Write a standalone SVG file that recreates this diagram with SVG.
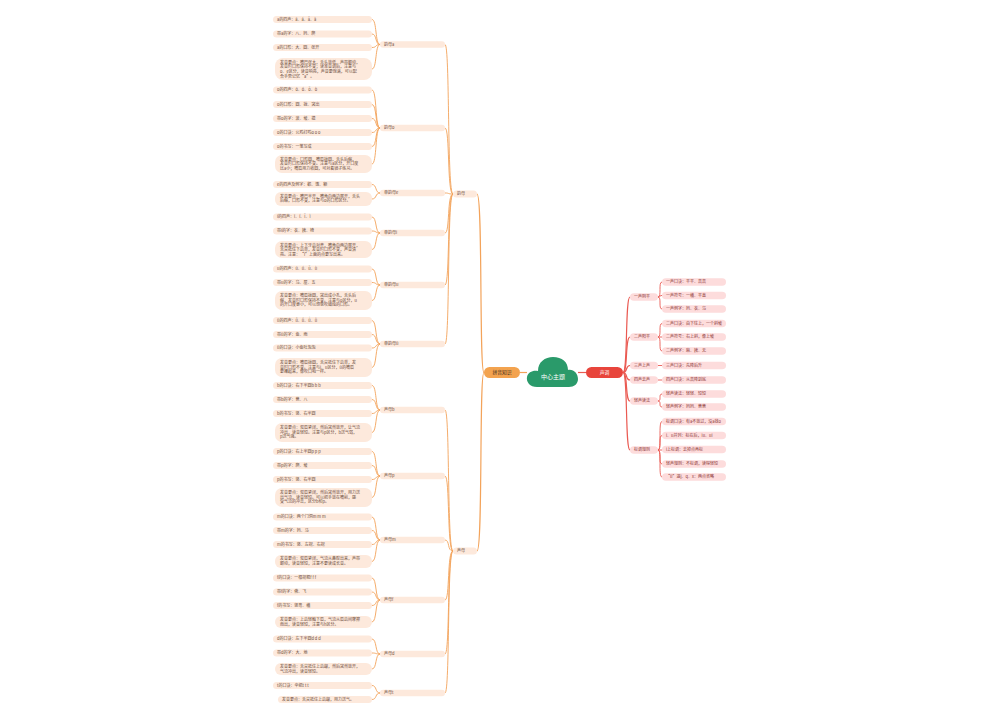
<svg xmlns="http://www.w3.org/2000/svg" width="1000" height="720" viewBox="0 0 1000 720">
<style>
.lf{fill:#fde9dc}
.rf{fill:#fddcdc}
.t{font-family:"Noto Sans CJK SC","Noto Sans",sans-serif;font-size:4px;fill:#6b4b3a}
.rt{font-family:"Noto Sans CJK SC","Noto Sans",sans-serif;font-size:4px;fill:#8a3636}
.c1{fill:none;stroke:#f3a35a;stroke-width:0.9}
.c2{fill:none;stroke:#ea5a52;stroke-width:0.9}
.m1{fill:none;stroke:#f3a35a;stroke-width:1.2}
.m2{fill:none;stroke:#ea5a52;stroke-width:1.2}
</style>
<rect width="1000" height="720" fill="#ffffff"/>
<g id="connectors">
<path class="m1" d="M520,372.5 L527,372.5"/>
<path class="m2" d="M578,372.5 L586,372.5"/>
<path class="m1" d="M484,372.5 C479,372.5 483,194 477,194"/>
<path class="m1" d="M484,372.5 C479,372.5 483,551 477,551"/>
<path class="c1" d="M453,194 C447,194 450,44.5 445,44.5"/>
<path class="c1" d="M453,194 C447,194 450,128 445,128"/>
<path class="c1" d="M453,194 C447,194 450,193 445,193"/>
<path class="c1" d="M453,194 C447,194 450,233 445,233"/>
<path class="c1" d="M453,194 C447,194 450,285 445,285"/>
<path class="c1" d="M453,194 C447,194 450,344 445,344"/>
<path class="c1" d="M453,551 C447,551 450,410 445,410"/>
<path class="c1" d="M453,551 C447,551 450,476 445,476"/>
<path class="c1" d="M453,551 C447,551 450,540 445,540"/>
<path class="c1" d="M453,551 C447,551 450,600 445,600"/>
<path class="c1" d="M453,551 C447,551 450,654 445,654"/>
<path class="c1" d="M453,551 C447,551 450,693 445,693"/>
<path class="c1" d="M380,44.5 C375,44.5 377,19.5 372,19.5"/>
<path class="c1" d="M380,44.5 C375,44.5 377,34 372,34"/>
<path class="c1" d="M380,44.5 C375,44.5 377,47.5 372,47.5"/>
<path class="c1" d="M380,44.5 C375,44.5 377,69 372,69"/>
<path class="c1" d="M380,128 C375,128 377,90 372,90"/>
<path class="c1" d="M380,128 C375,128 377,104.5 372,104.5"/>
<path class="c1" d="M380,128 C375,128 377,118.5 372,118.5"/>
<path class="c1" d="M380,128 C375,128 377,132.5 372,132.5"/>
<path class="c1" d="M380,128 C375,128 377,146.5 372,146.5"/>
<path class="c1" d="M380,128 C375,128 377,164 372,164"/>
<path class="c1" d="M380,193 C375,193 377,184.5 372,184.5"/>
<path class="c1" d="M380,193 C375,193 377,199 372,199"/>
<path class="c1" d="M380,233 C375,233 377,217 372,217"/>
<path class="c1" d="M380,233 C375,233 377,231 372,231"/>
<path class="c1" d="M380,233 C375,233 377,249.5 372,249.5"/>
<path class="c1" d="M380,285 C375,285 377,269 372,269"/>
<path class="c1" d="M380,285 C375,285 377,282.5 372,282.5"/>
<path class="c1" d="M380,285 C375,285 377,300.5 372,300.5"/>
<path class="c1" d="M380,344 C375,344 377,320.5 372,320.5"/>
<path class="c1" d="M380,344 C375,344 377,334.5 372,334.5"/>
<path class="c1" d="M380,344 C375,344 377,348 372,348"/>
<path class="c1" d="M380,344 C375,344 377,367.5 372,367.5"/>
<path class="c1" d="M380,410 C375,410 377,385.5 372,385.5"/>
<path class="c1" d="M380,410 C375,410 377,399.5 372,399.5"/>
<path class="c1" d="M380,410 C375,410 377,413.5 372,413.5"/>
<path class="c1" d="M380,410 C375,410 377,432.5 372,432.5"/>
<path class="c1" d="M380,476 C375,476 377,451.5 372,451.5"/>
<path class="c1" d="M380,476 C375,476 377,465.5 372,465.5"/>
<path class="c1" d="M380,476 C375,476 377,479.5 372,479.5"/>
<path class="c1" d="M380,476 C375,476 377,497.5 372,497.5"/>
<path class="c1" d="M380,540 C375,540 377,517 372,517"/>
<path class="c1" d="M380,540 C375,540 377,530.5 372,530.5"/>
<path class="c1" d="M380,540 C375,540 377,544.5 372,544.5"/>
<path class="c1" d="M380,540 C375,540 377,561.5 372,561.5"/>
<path class="c1" d="M380,600 C375,600 377,578 372,578"/>
<path class="c1" d="M380,600 C375,600 377,592 372,592"/>
<path class="c1" d="M380,600 C375,600 377,605.5 372,605.5"/>
<path class="c1" d="M380,600 C375,600 377,622 372,622"/>
<path class="c1" d="M380,654 C375,654 377,639 372,639"/>
<path class="c1" d="M380,654 C375,654 377,653 372,653"/>
<path class="c1" d="M380,654 C375,654 377,669 372,669"/>
<path class="c1" d="M380,693 C375,693 377,685.5 372,685.5"/>
<path class="c1" d="M380,693 C375,693 377,699.5 372,699.5"/>
<path class="m2" d="M623,372.5 C628,372.5 625,297 630,297"/>
<path class="m2" d="M623,372.5 C628,372.5 625,337 630,337"/>
<path class="m2" d="M623,372.5 C628,372.5 625,365.5 630,365.5"/>
<path class="m2" d="M623,372.5 C628,372.5 625,380 630,380"/>
<path class="m2" d="M623,372.5 C628,372.5 625,401 630,401"/>
<path class="m2" d="M623,372.5 C628,372.5 625,450 630,450"/>
<path class="c2" d="M658,297 C662,297 658,282 662,282"/>
<path class="c2" d="M658,297 C662,297 658,295.5 662,295.5"/>
<path class="c2" d="M658,297 C662,297 658,309 662,309"/>
<path class="c2" d="M658,337 C662,337 658,323.5 662,323.5"/>
<path class="c2" d="M658,337 L662,337"/>
<path class="c2" d="M658,337 C662,337 658,351 662,351"/>
<path class="c2" d="M658,365.5 L662,365.5"/>
<path class="c2" d="M658,380 L662,380"/>
<path class="c2" d="M658,401 C662,401 658,394 662,394"/>
<path class="c2" d="M658,401 C662,401 658,407 662,407"/>
<path class="c2" d="M658,450 C662,450 658,421.5 662,421.5"/>
<path class="c2" d="M658,450 C662,450 658,435.5 662,435.5"/>
<path class="c2" d="M658,450 L662,450"/>
<path class="c2" d="M658,450 C662,450 658,464 662,464"/>
<path class="c2" d="M658,450 C662,450 658,477 662,477"/>
</g>
<g id="center">
<path d="M537,387 C530,387 526,382 527,377 C528,372 533,370 538,371 C538,362 545,357 553,357 C562,357 568,362 568,370 C574,369 578,374 578,379 C578,384 574,387 569,387 Z" fill="#2a9a6a"/>
<text x="553" y="378.5" text-anchor="middle" font-family="Noto Sans CJK SC, Noto Sans, sans-serif" font-size="6" fill="#ffffff">中心主题</text>
</g>
<g id="n-left">
<rect x="484" y="367" width="36" height="11" rx="5.5" fill="#f3a34f"/>
<text x="502" y="374.3" text-anchor="middle" font-family="Noto Sans CJK SC, Noto Sans, sans-serif" font-size="4.8" fill="#3a2a1a">拼音知识</text>
</g>
<g id="n-right">
<rect x="586" y="367" width="37" height="11" rx="5.5" fill="#e8453c"/>
<text x="604.5" y="374.3" text-anchor="middle" font-family="Noto Sans CJK SC, Noto Sans, sans-serif" font-size="4.8" fill="#ffffff">声调</text>
</g>
<g id="n-yunmu"><rect class="lf" x="453" y="190.5" width="24" height="7" rx="3.5"/><text class="t" x="457" y="195.4">韵母</text></g>
<g id="n-shengmu"><rect class="lf" x="453" y="547.5" width="24" height="7" rx="3.5"/><text class="t" x="457" y="552.4">声母</text></g>

<g id="g1">
<rect class="lf" x="380" y="41.2" width="65" height="6.5" rx="3.25"/><text class="t" x="384" y="45.9">韵母a</text>
<rect class="lf" x="273" y="16" width="99" height="7" rx="3.5"/><text class="t" x="277" y="20.9">a的四声：ā、á、ǎ、à</text>
<rect class="lf" x="273" y="30.5" width="99" height="7" rx="3.5"/><text class="t" x="277" y="35.4">带a的字：八、妈、爬</text>
<rect class="lf" x="273" y="44" width="99" height="7" rx="3.5"/><text class="t" x="277" y="48.9">a的口形：大、圆、张开</text>
<rect class="lf" x="275" y="58" width="97" height="22" rx="8"/>
<text class="t" x="280" y="63.8">发音要点：嘴巴张大，舌头放低，声带颤动，</text>
<text class="t" x="280" y="68.4">发音时口形保持不变；读准音调后，注意与</text>
<text class="t" x="280" y="73">o、e区分，读音响亮，声音要饱满，可以配</text>
<text class="t" x="280" y="77.6">合手势记忆“a”。</text>
</g>
<g id="g2">
<rect class="lf" x="380" y="124.8" width="65" height="6.5" rx="3.25"/><text class="t" x="384" y="129.4">韵母o</text>
<rect class="lf" x="273" y="86.5" width="99" height="7" rx="3.5"/><text class="t" x="277" y="91.4">o的四声：ō、ó、ǒ、ò</text>
<rect class="lf" x="273" y="101" width="99" height="7" rx="3.5"/><text class="t" x="277" y="105.9">o的口形：圆、拢、突出</text>
<rect class="lf" x="273" y="115" width="99" height="7" rx="3.5"/><text class="t" x="277" y="119.9">带o的字：波、坡、摸</text>
<rect class="lf" x="273" y="129" width="99" height="7" rx="3.5"/><text class="t" x="277" y="133.9">o的口诀：公鸡打鸣o o o</text>
<rect class="lf" x="273" y="143" width="99" height="7" rx="3.5"/><text class="t" x="277" y="147.9">o的书写：一笔写成</text>
<rect class="lf" x="275" y="155" width="97" height="18" rx="7"/>
<text class="t" x="280" y="160.8">发音要点：口形圆，嘴唇拢圆，舌头后缩，</text>
<text class="t" x="280" y="165.4">发音时口形保持不变。注意与a区分，开口度</text>
<text class="t" x="280" y="170">比a小；嘴唇用力收圆，可对着镜子练习。</text>
</g>
<g id="g3">
<rect class="lf" x="380" y="189.8" width="65" height="6.5" rx="3.25"/><text class="t" x="384" y="194.4">单韵母e</text>
<rect class="lf" x="273" y="181" width="99" height="7" rx="3.5"/><text class="t" x="277" y="185.9">e的四声及例字：鹅、饿、额</text>
<rect class="lf" x="275" y="192" width="97" height="14" rx="6"/>
<text class="t" x="280" y="197.6">发音要点：嘴巴半开，嘴角向两边展开，舌头</text>
<text class="t" x="280" y="202.2">后缩，口形不变，注意与o的口形区分。</text>
</g>
<g id="g4">
<rect class="lf" x="380" y="229.8" width="65" height="6.5" rx="3.25"/><text class="t" x="384" y="234.4">单韵母i</text>
<rect class="lf" x="273" y="213.5" width="99" height="7" rx="3.5"/><text class="t" x="277" y="218.4">i的四声：ī、í、ǐ、ì</text>
<rect class="lf" x="273" y="227.5" width="99" height="7" rx="3.5"/><text class="t" x="277" y="232.4">带i的字：衣、姨、椅</text>
<rect class="lf" x="275" y="241" width="97" height="17" rx="7"/>
<text class="t" x="280" y="246.6">发音要点：上下牙齿对齐，嘴角向两边展开，</text>
<text class="t" x="280" y="251.2">舌尖抵住下齿背，发音时口形不变，声音清</text>
<text class="t" x="280" y="255.8">亮。注意：“i”上面的点要写出来。</text>
</g>
<g id="g5">
<rect class="lf" x="380" y="281.8" width="65" height="6.5" rx="3.25"/><text class="t" x="384" y="286.4">单韵母u</text>
<rect class="lf" x="273" y="265.5" width="99" height="7" rx="3.5"/><text class="t" x="277" y="270.4">u的四声：ū、ú、ǔ、ù</text>
<rect class="lf" x="273" y="279" width="99" height="7" rx="3.5"/><text class="t" x="277" y="283.9">带u的字：乌、屋、五</text>
<rect class="lf" x="275" y="291" width="97" height="19" rx="7"/>
<text class="t" x="280" y="297.2">发音要点：嘴唇拢圆，突出成小孔，舌头后</text>
<text class="t" x="280" y="301.8">缩，发音时口形保持不变。注意与o区分，u</text>
<text class="t" x="280" y="306.4">的开口度更小，可以想象吹蜡烛的口形。</text>
</g>
<g id="g6">
<rect class="lf" x="380" y="340.8" width="65" height="6.5" rx="3.25"/><text class="t" x="384" y="345.4">单韵母ü</text>
<rect class="lf" x="273" y="317" width="99" height="7" rx="3.5"/><text class="t" x="277" y="321.9">ü的四声：ǖ、ǘ、ǚ、ǜ</text>
<rect class="lf" x="273" y="331" width="99" height="7" rx="3.5"/><text class="t" x="277" y="335.9">带ü的字：鱼、雨</text>
<rect class="lf" x="273" y="344.5" width="99" height="7" rx="3.5"/><text class="t" x="277" y="349.4">ü的口诀：小鱼吐泡泡</text>
<rect class="lf" x="275" y="358" width="97" height="19" rx="7"/>
<text class="t" x="280" y="364.2">发音要点：嘴唇拢圆，舌尖抵住下齿背，发</text>
<text class="t" x="280" y="368.8">音时口形不变。注意与i、u区分，ü的嘴唇</text>
<text class="t" x="280" y="373.4">要撮起来，像吹口哨一样。</text>
</g>
<g id="g7">
<rect class="lf" x="380" y="406.8" width="65" height="6.5" rx="3.25"/><text class="t" x="384" y="411.4">声母b</text>
<rect class="lf" x="273" y="382" width="99" height="7" rx="3.5"/><text class="t" x="277" y="386.9">b的口诀：右下半圆b b b</text>
<rect class="lf" x="273" y="396" width="99" height="7" rx="3.5"/><text class="t" x="277" y="400.9">带b的字：爸、八</text>
<rect class="lf" x="273" y="410" width="99" height="7" rx="3.5"/><text class="t" x="277" y="414.9">b的书写：竖、右半圆</text>
<rect class="lf" x="275" y="423" width="97" height="19" rx="7"/>
<text class="t" x="280" y="429.2">发音要点：双唇紧闭，然后突然放开，让气流</text>
<text class="t" x="280" y="433.8">冲出，读音轻短。注意与p区分，b送气弱，</text>
<text class="t" x="280" y="438.4">p送气强。</text>
</g>
<g id="g8">
<rect class="lf" x="380" y="472.8" width="65" height="6.5" rx="3.25"/><text class="t" x="384" y="477.4">声母p</text>
<rect class="lf" x="273" y="448" width="99" height="7" rx="3.5"/><text class="t" x="277" y="452.9">p的口诀：右上半圆p p p</text>
<rect class="lf" x="273" y="462" width="99" height="7" rx="3.5"/><text class="t" x="277" y="466.9">带p的字：爬、坡</text>
<rect class="lf" x="273" y="476" width="99" height="7" rx="3.5"/><text class="t" x="277" y="480.9">p的书写：竖、右半圆</text>
<rect class="lf" x="275" y="488" width="97" height="19" rx="7"/>
<text class="t" x="280" y="494.2">发音要点：双唇紧闭，然后突然放开，用力送</text>
<text class="t" x="280" y="498.8">出气流，读音轻短。可以把手放在嘴前，感</text>
<text class="t" x="280" y="503.4">受气流的冲击，区分b和p。</text>
</g>
<g id="g9">
<rect class="lf" x="380" y="536.8" width="65" height="6.5" rx="3.25"/><text class="t" x="384" y="541.4">声母m</text>
<rect class="lf" x="273" y="513.5" width="99" height="7" rx="3.5"/><text class="t" x="277" y="518.4">m的口诀：两个门洞m m m</text>
<rect class="lf" x="273" y="527" width="99" height="7" rx="3.5"/><text class="t" x="277" y="531.9">带m的字：妈、马</text>
<rect class="lf" x="273" y="541" width="99" height="7" rx="3.5"/><text class="t" x="277" y="545.9">m的书写：竖、左拐、右拐</text>
<rect class="lf" x="275" y="555" width="97" height="13" rx="6"/>
<text class="t" x="280" y="560.4">发音要点：双唇紧闭，气流从鼻腔出来，声带</text>
<text class="t" x="280" y="565">颤动，读音轻短，注意不要读成长音。</text>
</g>
<g id="g10">
<rect class="lf" x="380" y="596.8" width="65" height="6.5" rx="3.25"/><text class="t" x="384" y="601.4">声母f</text>
<rect class="lf" x="273" y="574.5" width="99" height="7" rx="3.5"/><text class="t" x="277" y="579.4">f的口诀：一根拐棍f f f</text>
<rect class="lf" x="273" y="588.5" width="99" height="7" rx="3.5"/><text class="t" x="277" y="593.4">带f的字：佛、飞</text>
<rect class="lf" x="273" y="602" width="99" height="7" rx="3.5"/><text class="t" x="277" y="606.9">f的书写：竖弯、横</text>
<rect class="lf" x="275" y="616" width="97" height="12" rx="6"/>
<text class="t" x="280" y="620.9">发音要点：上齿轻触下唇，气流从唇齿间摩擦</text>
<text class="t" x="280" y="625.5">而出，读音轻短，注意与h区分。</text>
</g>
<g id="g11">
<rect class="lf" x="380" y="650.8" width="65" height="6.5" rx="3.25"/><text class="t" x="384" y="655.4">声母d</text>
<rect class="lf" x="273" y="635.5" width="99" height="7" rx="3.5"/><text class="t" x="277" y="640.4">d的口诀：左下半圆d d d</text>
<rect class="lf" x="273" y="649.5" width="99" height="7" rx="3.5"/><text class="t" x="277" y="654.4">带d的字：大、地</text>
<rect class="lf" x="275" y="663" width="97" height="12" rx="6"/>
<text class="t" x="280" y="667.9">发音要点：舌尖抵住上齿龈，然后突然放开，</text>
<text class="t" x="280" y="672.5">气流冲出，读音轻短。</text>
</g>
<g id="g12">
<rect class="lf" x="380" y="689.8" width="65" height="6.5" rx="3.25"/><text class="t" x="384" y="694.4">声母t</text>
<rect class="lf" x="273" y="682" width="99" height="7" rx="3.5"/><text class="t" x="277" y="686.9">t的口诀：伞把t t t</text>
<rect class="lf" x="278" y="696" width="94" height="7" rx="3.5"/><text class="t" x="282" y="700.9">发音要点：舌尖抵住上齿龈，用力送气。</text>
</g>

<g id="r1">
<rect class="rf" x="630" y="293.2" width="28" height="7.5" rx="3.75"/><text class="rt" x="634" y="298.4">一声阴平</text>
<rect class="rf" x="662" y="278.2" width="64" height="7.5" rx="3.75"/><text class="rt" x="666" y="283.4">一声口诀：平平、高高</text>
<rect class="rf" x="662" y="291.7" width="64" height="7.5" rx="3.75"/><text class="rt" x="666" y="296.9">一声符号：一横、平直</text>
<rect class="rf" x="662" y="305.2" width="64" height="7.5" rx="3.75"/><text class="rt" x="666" y="310.4">一声例字：妈、衣、乌</text>
</g>
<g id="r2">
<rect class="rf" x="630" y="333.2" width="28" height="7.5" rx="3.75"/><text class="rt" x="634" y="338.4">二声阳平</text>
<rect class="rf" x="662" y="319.7" width="64" height="7.5" rx="3.75"/><text class="rt" x="666" y="324.9">二声口诀：由下往上，一个斜坡</text>
<rect class="rf" x="662" y="333.2" width="64" height="7.5" rx="3.75"/><text class="rt" x="666" y="338.4">二声符号：右上斜，像上坡</text>
<rect class="rf" x="662" y="347.2" width="64" height="7.5" rx="3.75"/><text class="rt" x="666" y="352.4">二声例字：麻、姨、无</text>
</g>
<g id="r3">
<rect class="rf" x="630" y="361.7" width="28" height="7.5" rx="3.75"/><text class="rt" x="634" y="366.9">三声上声</text>
<rect class="rf" x="662" y="361.7" width="64" height="7.5" rx="3.75"/><text class="rt" x="666" y="366.9">三声口诀：先降后升</text>
</g>
<g id="r4">
<rect class="rf" x="630" y="376.2" width="28" height="7.5" rx="3.75"/><text class="rt" x="634" y="381.4">四声去声</text>
<rect class="rf" x="662" y="376.2" width="64" height="7.5" rx="3.75"/><text class="rt" x="666" y="381.4">四声口诀：从高降到底</text>
</g>
<g id="r5">
<rect class="rf" x="630" y="397.2" width="28" height="7.5" rx="3.75"/><text class="rt" x="634" y="402.4">轻声读法</text>
<rect class="rf" x="662" y="390.2" width="64" height="7.5" rx="3.75"/><text class="rt" x="666" y="395.4">轻声读法：轻轻、短短</text>
<rect class="rf" x="662" y="403.2" width="64" height="7.5" rx="3.75"/><text class="rt" x="666" y="408.4">轻声例字：妈妈、爸爸</text>
</g>
<g id="r6">
<rect class="rf" x="630" y="446.2" width="28" height="7.5" rx="3.75"/><text class="rt" x="634" y="451.4">标调规则</text>
<rect class="rf" x="662" y="417.7" width="64" height="7.5" rx="3.75"/><text class="rt" x="666" y="422.9">标调口诀：有a不放过，没a找o</text>
<rect class="rf" x="662" y="431.7" width="64" height="7.5" rx="3.75"/><text class="rt" x="666" y="436.9">i、u并列：标在后，iu、ui</text>
<rect class="rf" x="662" y="445.7" width="64" height="7.5" rx="3.75"/><text class="rt" x="666" y="450.9">i上标调：去掉点再标</text>
<rect class="rf" x="662" y="460.2" width="64" height="7.5" rx="3.75"/><text class="rt" x="666" y="465.4">轻声规则：不标调，读得轻短</text>
<rect class="rf" x="662" y="473.2" width="64" height="7.5" rx="3.75"/><text class="rt" x="666" y="478.4">“ü”遇j、q、x：两点省略</text>
</g>
</svg>
